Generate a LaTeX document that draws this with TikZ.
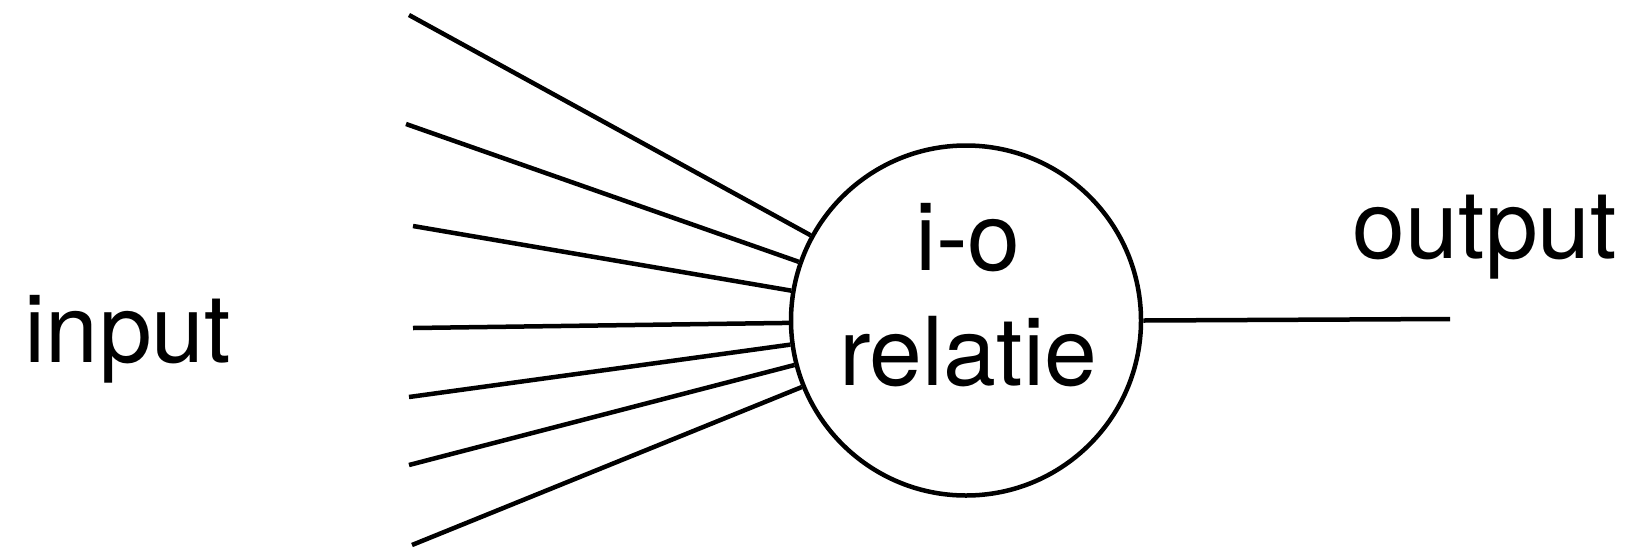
\documentclass[tikz,border=0pt]{standalone}
\usepackage{fontspec}
\setmainfont{TeX Gyre Heros}
\usetikzlibrary{positioning}

\begin{document}
\begin{tikzpicture}[
        x=1pt, y=-1pt,
        relation/.style={circle, draw=black, line width=4.5pt, minimum size=350pt, inner sep=0pt},
        word/.style={inner sep=0pt, font=\fontsize{95}{110}\selectfont},
        wire/.style={line width=4.5pt, draw=black}
    ]
    \useasboundingbox (0,0) rectangle (1632,547);

    \node[relation] (rel) at (966,320.5) {};
    \node[word, anchor=base] (io) at (968,270) {i-o};
    \node[word, anchor=base] (relatie) at (968,385) {relatie};

    \node[word, anchor=base] (input) at (128,362) {input};
    \node[word, anchor=base] (output) at (1485,258) {output};

    \coordinate (in1) at (409,15);
    \coordinate (in2) at (406,124);
    \coordinate (in3) at (413,226);
    \coordinate (in4) at (413,328);
    \coordinate (in5) at (409,397);
    \coordinate (in6) at (409,465);
    \coordinate (in7) at (412,545);
    \coordinate (out) at (1450,319);

    \draw[wire] (in1) -- (rel);
    \draw[wire] (in2) -- (rel);
    \draw[wire] (in3) -- (rel);
    \draw[wire] (in4) -- (rel);
    \draw[wire] (in5) -- (rel);
    \draw[wire] (in6) -- (rel);
    \draw[wire] (in7) -- (rel);
    \draw[wire] (rel.east) -- (out);

\end{tikzpicture}
\end{document}
